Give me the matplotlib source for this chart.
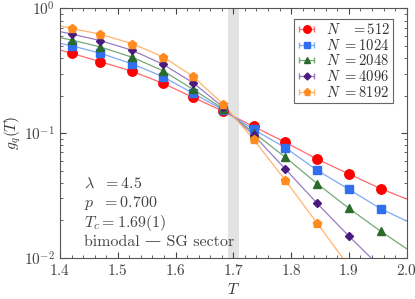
import numpy as np
import matplotlib
matplotlib.use('Agg')
import matplotlib.pyplot as plt
from matplotlib.ticker import MultipleLocator

plt.rcParams['mathtext.fontset'] = 'cm'
plt.rcParams['font.family'] = ['cmr10', 'DejaVu Serif']
plt.rcParams['axes.formatter.use_mathtext'] = True

# temperatures of the simulated points
T = [1.42, 1.47, 1.525, 1.578, 1.63, 1.682, 1.735, 1.79, 1.845, 1.9, 1.955]

sizes = [512, 1024, 2048, 4096, 8192]

g512 = [0.437, 0.374, 0.313, 0.251, 0.194, 0.150, 0.113, 0.0844, 0.0619, 0.047, 0.0358]
g1024 = [0.503, 0.437, 0.359, 0.284, 0.209, 0.154, 0.107, 0.0764, 0.0503, 0.0354, 0.0247]
g2048 = [0.559, 0.491, 0.406, 0.317, 0.225, 0.157, 0.101, 0.064, 0.0393, 0.0249, 0.0163]
g4096 = [0.624, 0.552, 0.462, 0.357, 0.254, 0.162, 0.0966, 0.0515, 0.0273, 0.0149]
g8192 = [0.693, 0.621, 0.522, 0.410, 0.286, 0.171, 0.089, 0.0418, 0.0189]

# where the guide lines meet the frame
left_end = [0.465, 0.525, 0.583, 0.652, 0.724]
right_T = [2.0, 2.0, 2.0, 1.938, 1.889]
right_end = [0.0296, 0.0197, 0.0118, 0.01, 0.01]

series = [g512, g1024, g2048, g4096, g8192]
colors = ['#ff0000', '#2f6ff0', '#2a6a2a', '#4b1a7e', '#ff8a1e']
lcolors = ['#ff6a6a', '#7faaf6', '#74a874', '#9a7cc2', '#ffb46e']
markers = ['o', 's', '^', 'D', 'p']
msizes = [6.8, 6.2, 5.6, 4.4, 6.4]

fig = plt.figure(figsize=(4.15, 2.99), dpi=100)
ax = fig.add_axes([0.1446, 0.138, 0.8354, 0.8336])

ax.axvspan(1.69, 1.71, color='#e3e3e3', lw=0, zorder=0)

for i in range(len(sizes)):
    g = series[i]
    t = T[:len(g)]
    ax.plot([1.4] + t + [right_T[i]], [left_end[i]] + g + [right_end[i]],
            color=lcolors[i], lw=0.9, zorder=2)
    ax.errorbar(t, g, xerr=np.zeros(len(g)), fmt=markers[i], color=colors[i],
                ms=msizes[i], ecolor=lcolors[i], elinewidth=0.9, capsize=2,
                label=r'$N\ %s= %d$' % (r'\ \ ' if sizes[i] < 1000 else '', sizes[i]),
                zorder=3)

ax.set_yscale('log')
ax.set_xlim(1.4, 2.0)
ax.set_ylim(0.01, 1.0)
ax.xaxis.set_major_locator(MultipleLocator(0.1))
ax.xaxis.set_minor_locator(MultipleLocator(0.02))
ax.tick_params(which='both', direction='in', top=True, right=True, labelsize=11,
               labelcolor='#444444', color='#444444')
ax.tick_params(which='major', length=4)
ax.tick_params(which='minor', length=2)
for s in ax.spines.values():
    s.set_color('#555555')

ax.set_xlabel(r'$T$', fontsize=11, color='#333333', labelpad=3)
ax.set_ylabel(r'$g_q(T)$', fontsize=11, color='#333333', labelpad=1)

leg = ax.legend(loc='upper right', bbox_to_anchor=(0.96, 0.958), fontsize=10.5,
                fancybox=False, edgecolor='#666666', framealpha=1,
                handlelength=1.4, borderpad=0.2, labelspacing=0.05,
                handletextpad=0.6, borderaxespad=0.0, markerscale=0.8)
leg.get_frame().set_linewidth(0.8)
for txt in leg.get_texts():
    txt.set_color('#333333')

info = [r'$\lambda\ \ = 4.5$', r'$p\ \ = 0.700$', r'$T_c = 1.69(1)$', 'bimodal — SG sector']
for k, s in enumerate(info):
    ax.text(0.07, 0.2985 - k * 0.0787, s, transform=ax.transAxes, fontsize=11.5,
            color='#444444', va='center')

fig.savefig('out.png', dpi=100)
